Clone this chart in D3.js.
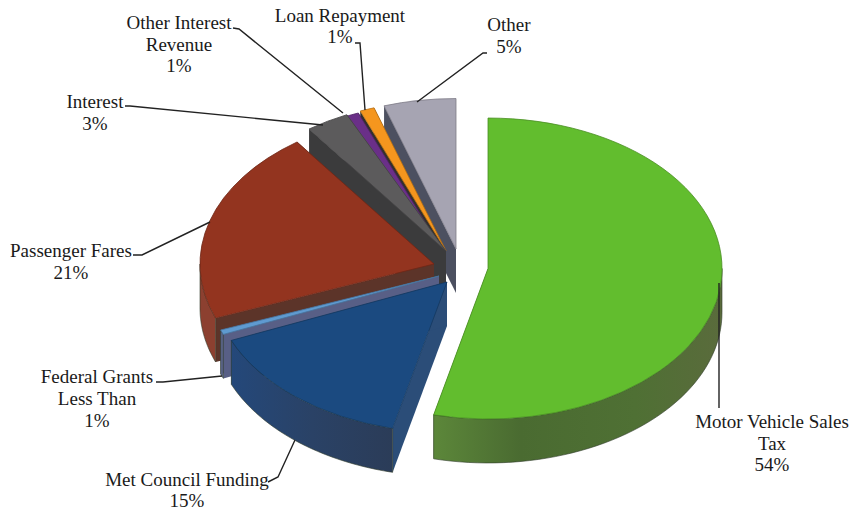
<!DOCTYPE html>
<html>
<head>
<meta charset="utf-8">
<script src="https://cdn.jsdelivr.net/npm/d3@7"></script>
<style>
  html, body { margin: 0; background: #fff; }
  text { font-family: "Liberation Serif", "Times New Roman", serif; font-size: 19px; fill: #1a1a1a; }
</style>
</head>
<body>
<svg id="chart" width="850" height="512"></svg>
<script>
// Revenue shares, clockwise from twelve o'clock
const categories = ["Motor Vehicle Sales Tax", "Met Council Funding", "Federal Grants Less Than", "Passenger Fares", "Interest", "Other Interest Revenue", "Loan Repayment", "Other"];
const shares = [54, 15, 0.5, 21, 3, 1, 1, 5];
const shareLabels = ["54%", "15%", "1%", "21%", "3%", "1%", "1%", "5%"];

// Slice appearance
const topColors = ["#62bd2e", "#1b4a80", "#5f9ad0", "#93341f", "#5c5b5c", "#6a2f88", "#f5961e", "#a6a4b2"];
const wallColors = ["url(#wall-green)", "url(#wall-blue)", "#5a6488", "#8c4030", "#3e3d3f", "#3a2a4a", "#3e3630", "#5a5a68"];
const cutColors = ["#5c873a", "#2b4d78", "#585f86", "#5c3429", "#3b3b3c", "#2e2438", "#33302c", "#4c5060"];

// Pie geometry
const radius = 234, squash = 0.643, depth = 44;
const pieCentre = [455, 262];
const explodeX = [33, -8, -16, -21, -9, -11, -9, 1];
const explodeY = [6.5, 20, 14, 2, -11, -9, -11, -13];

const svg = d3.select("#chart");
const defs = svg.append("defs");

// Shading along the curved walls of the two front slices
function wallGradient(id, stops) {
  const grad = defs.append("linearGradient").attr("id", id);
  stops.forEach(([offset, color]) => grad.append("stop").attr("offset", offset).attr("stop-color", color));
}
wallGradient("wall-green", [[0, "#5c873a"], [0.3, "#4a6b31"], [0.7, "#4f7034"], [1, "#5a6b3c"]]);
wallGradient("wall-blue", [[0, "#24487a"], [0.5, "#2a4266"], [1, "#2b3c58"]]);

const arcs = d3.pie().sort(null).value(d => d)(shares);
const topArc = d3.arc().innerRadius(0).outerRadius(radius);

const point = (i, angle, r, z) => [
  pieCentre[0] + explodeX[i] + r * Math.sin(angle),
  pieCentre[1] + explodeY[i] - r * Math.cos(angle) * squash + z
];
const poly = d3.line();

// Curved outer wall over the part of a slice's rim that faces the viewer
function wallPath(i, a0, a1) {
  const from = Math.max(a0, Math.PI / 2), to = Math.min(a1, Math.PI * 1.5);
  if (to <= from) return null;
  const n = 48, upper = [], lower = [];
  for (let k = 0; k <= n; k++) {
    const a = from + (to - from) * k / n;
    upper.push(point(i, a, radius, 0));
    lower.push(point(i, a, radius, depth));
  }
  return poly(upper.concat(lower.reverse())) + "Z";
}

// Flat radial cut face of a slice
function cutPath(i, a) {
  return poly([point(i, a, 0, 0), point(i, a, radius, 0), point(i, a, radius, depth), point(i, a, 0, depth)]) + "Z";
}

// Back slices first so the nearer ones overlap them
const order = [7, 6, 5, 4, 3, 2, 1, 0];
order.forEach(i => {
  const a = arcs[i];
  const g = svg.append("g").attr("class", "slice");
  g.append("path").attr("d", cutPath(i, a.startAngle)).attr("fill", cutColors[i]);
  g.append("path").attr("d", cutPath(i, a.endAngle)).attr("fill", cutColors[i]);
  const wall = wallPath(i, a.startAngle, a.endAngle);
  if (wall) g.append("path").attr("d", wall).attr("fill", wallColors[i]).attr("stroke", "#2f3a2a").attr("stroke-width", 0.6);
  g.append("path")
    .attr("d", topArc(a))
    .attr("transform", `translate(${pieCentre[0] + explodeX[i]},${pieCentre[1] + explodeY[i]}) scale(1,${squash})`)
    .attr("fill", topColors[i])
    .attr("stroke", d3.color(topColors[i]).darker(0.8))
    .attr("stroke-width", 0.8)
    .attr("vector-effect", "non-scaling-stroke");
});

// Leader lines from each slice to its caption
const leaders = [
  [[719, 283], [719, 408]],
  [[295, 440], [278, 477], [268, 482]],
  [[222, 376], [163, 382], [156, 382]],
  [[210, 222], [142, 255], [133, 255]],
  [[323, 125], [130, 106], [125, 106]],
  [[343, 113], [239, 29], [233, 28]],
  [[365, 110], [360, 43], [355, 43]],
  [[417, 102], [483, 53], [487, 53]]
];
svg.selectAll("path.leader").data(leaders).join("path")
  .attr("class", "leader")
  .attr("d", d => poly(d))
  .attr("fill", "none").attr("stroke", "#222").attr("stroke-width", 1.4);

// Captions: name lines followed by the share
const captionLines = [
  ["Motor Vehicle Sales", "Tax"],
  ["Met Council Funding"],
  ["Federal Grants", "Less Than"],
  ["Passenger Fares"],
  ["Interest"],
  ["Other Interest", "Revenue"],
  ["Loan Repayment"],
  ["Other"]
];
const captionX = [772, 187, 97, 71, 95, 179, 340, 509];
const captionY = [428, 486, 383, 257, 108, 29, 22, 31];
const lineStep = [21.5, 21, 22, 22, 22, 21.5, 21, 22];
captionLines.forEach((lines, i) => {
  const t = svg.append("text").attr("text-anchor", "middle");
  lines.concat(shareLabels[i]).forEach((s, k) => {
    t.append("tspan").attr("x", captionX[i]).attr("y", captionY[i] + k * lineStep[i]).text(s);
  });
});
</script>
</body>
</html>
